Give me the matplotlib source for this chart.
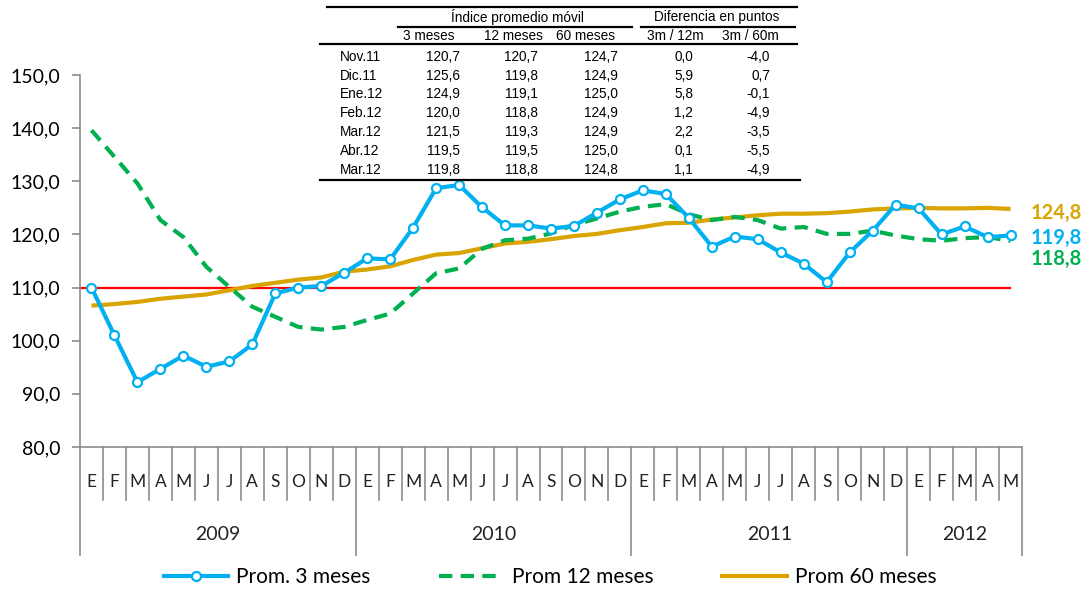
import matplotlib.pyplot as plt
from matplotlib.lines import Line2D

# ---- data ----
month_letters = ['E', 'F', 'M', 'A', 'M', 'J', 'J', 'A', 'S', 'O', 'N', 'D']
years = ['2009', '2010', '2011', '2012']
months_per_year = [12, 12, 12, 5]

prom_3m = [110.0, 101.0, 92.2, 94.7, 97.2, 95.1, 96.1, 99.3, 108.9, 110.0, 110.3, 112.8,
           115.5, 115.3, 121.3, 128.7, 129.3, 125.1, 121.7, 121.7, 121.1, 121.6, 124.1, 126.6,
           128.3, 127.6, 123.1, 117.7, 119.6, 119.1, 116.6, 114.5, 111.0, 116.6, 120.7, 125.6,
           124.9, 120.0, 121.5, 119.5, 119.8]
prom_12m = [139.6, 134.6, 129.6, 122.7, 119.5, 113.9, 110.1, 106.4, 104.5, 102.6, 102.1, 102.6,
            103.9, 105.1, 108.9, 112.7, 113.6, 117.3, 118.9, 119.2, 120.2, 121.8, 123.0, 124.3,
            125.2, 125.7, 123.8, 122.7, 123.3, 122.7, 121.1, 121.4, 120.1, 120.1, 120.7, 119.8,
            119.1, 118.8, 119.3, 119.5, 118.8]
prom_60m = [106.6, 106.9, 107.3, 107.9, 108.3, 108.7, 109.5, 110.3, 110.9, 111.5, 111.9, 113.0,
            113.4, 114.0, 115.2, 116.2, 116.5, 117.4, 118.3, 118.6, 119.1, 119.7, 120.1, 120.8,
            121.4, 122.1, 122.2, 122.8, 123.2, 123.6, 123.9, 123.9, 124.0, 124.3, 124.7, 124.9,
            125.0, 124.9, 124.9, 125.0, 124.8]
ref_level = 110.0
y_ticks = [80, 90, 100, 110, 120, 130, 140, 150]

# table in the top of the chart
tab_rows = ['Nov.11', 'Dic.11', 'Ene.12', 'Feb.12', 'Mar.12', 'Abr.12', 'Mar.12']
tab_3m = [120.7, 125.6, 124.9, 120.0, 121.5, 119.5, 119.8]
tab_12m = [120.7, 119.8, 119.1, 118.8, 119.3, 119.5, 118.8]
tab_60m = [124.7, 124.9, 125.0, 124.9, 124.9, 125.0, 124.8]
dif_3m_12m = [0.0, 5.9, 5.8, 1.2, 2.2, 0.1, 1.1]
dif_3m_60m = [-4.0, 0.7, -0.1, -4.9, -3.5, -5.5, -4.9]

# ---- styles ----
BLUE = '#00B0F0'
GREEN = '#00B050'
GOLD = '#D9A400'
GREY = '#8C8C8C'
W, H = 1089, 590


def fmt(v):
    return ('%.1f' % v).replace('.', ',')


def fx(px):
    return px / W


def fy(py):
    return 1 - py / H


plt.rcParams['font.family'] = ['Lato', 'DejaVu Sans']

fig = plt.figure(figsize=(W / 100, H / 100), dpi=100)
ax = fig.add_axes([fx(80), fy(447), fx(1022) - fx(80), (447 - 75) / H])

n = len(prom_3m)
xs = list(range(n))

ax.hlines(ref_level, -0.5, n - 1, color='#FF0000', lw=1.6, zorder=2)
ax.plot(xs, prom_60m, color=GOLD, lw=3, zorder=3, solid_capstyle='butt')
ax.plot(xs, prom_12m, color=GREEN, lw=3, ls=(0, (3.2, 2.0)), zorder=4)
ax.plot(xs, prom_3m, color=BLUE, lw=3, marker='o', ms=6.5, mfc='white', mec=BLUE,
        mew=1.6, zorder=5)

ax.set_xlim(-0.5, n - 0.5)
ax.set_ylim(80, 150)
ax.set_yticks(y_ticks)
ax.set_yticklabels([fmt(v) for v in y_ticks], fontsize=14)
ax.tick_params(axis='y', direction='out', length=6, width=1.2, color=GREY, pad=8)
ax.set_xticks([])
for s in ['top', 'right']:
    ax.spines[s].set_visible(False)
for s in ['left', 'bottom']:
    ax.spines[s].set_color(GREY)
    ax.spines[s].set_linewidth(1.2)

# category axis: months and years
trans = ax.get_xaxis_transform()
month_bottom = (447 - 500) / (447 - 75)
year_bottom = (447 - 555) / (447 - 75)
k = 0
for yi, (yr, cnt) in enumerate(zip(years, months_per_year)):
    ax.plot([k - 0.5, k - 0.5], [0, year_bottom], transform=trans, color=GREY, lw=1.2, clip_on=False)
    for m in range(cnt):
        if m > 0:
            ax.plot([k + m - 0.5, k + m - 0.5], [0, month_bottom], transform=trans, color=GREY,
                    lw=1.2, clip_on=False)
        ax.text(k + m, (447 - 482) / (447 - 75), month_letters[m], transform=trans,
                ha='center', va='center', fontsize=12.5, color='#222222')
    ax.text(k + (cnt - 1) / 2, (447 - 535) / (447 - 75), yr, transform=trans,
            ha='center', va='center', fontsize=14, color='#222222')
    k += cnt
ax.plot([k - 0.5, k - 0.5], [0, year_bottom], transform=trans, color=GREY, lw=1.2, clip_on=False)

# end labels
ax.annotate(fmt(prom_60m[-1]), (n - 1, prom_60m[-1]), xytext=(20, -4), textcoords='offset pixels',
            color=GOLD, fontsize=14.5, fontweight='bold', va='center', annotation_clip=False)
ax.annotate(fmt(prom_3m[-1]), (n - 1, prom_3m[-1]), xytext=(20, -2), textcoords='offset pixels',
            color=BLUE, fontsize=14.5, fontweight='bold', va='center', annotation_clip=False)
ax.annotate(fmt(prom_12m[-1]), (n - 1, prom_12m[-1]), xytext=(20, -18), textcoords='offset pixels',
            color=GREEN, fontsize=14.5, fontweight='bold', va='center', annotation_clip=False)

# legend
handles = [
    Line2D([], [], color=BLUE, lw=3, marker='o', ms=6.5, mfc='white', mec=BLUE, mew=1.6),
    Line2D([], [], color=GREEN, lw=3, ls=(0, (3.2, 2.0))),
    Line2D([], [], color=GOLD, lw=3),
]
fig.legend(handles, ['Prom. 3 meses', 'Prom 12 meses', 'Prom 60 meses'], loc='center',
           bbox_to_anchor=(fx(550), fy(577)), ncol=3, frameon=False, fontsize=15,
           handlelength=3.1, handletextpad=0.38, columnspacing=3.3)

# table
tf = ['Liberation Sans', 'DejaVu Sans']
tsize = 9.8


def hline(x0, x1, y, lw):
    fig.add_artist(Line2D([fx(x0), fx(x1)], [fy(y), fy(y)], color='black', lw=lw))


hline(327, 797, 7, 1.6)
hline(398, 632, 27, 1.6)
hline(641, 795, 27, 1.6)
hline(320, 797, 44, 1.6)
hline(320, 800, 180, 1.6)
fig.text(fx(517), fy(17), 'Índice promedio móvil', family=tf, fontsize=tsize, ha='center', va='center')
fig.text(fx(717), fy(17), 'Diferencia en puntos', family=tf, fontsize=tsize, ha='center', va='center')
for cx, lab in zip([429, 513, 586, 675, 750], ['3 meses', '12 meses', '60 meses', '3m / 12m', '3m / 60m']):
    fig.text(fx(cx), fy(36), lab, family=tf, fontsize=tsize, ha='center', va='center')
row_y = [57, 75.7, 94.3, 113.3, 131.7, 150.7, 169.5]
for i, ry in enumerate(row_y):
    fig.text(fx(340), fy(ry), tab_rows[i], family=tf, fontsize=tsize, ha='left', va='center')
    for rx, col in zip([460, 538, 618, 693, 770], [tab_3m, tab_12m, tab_60m, dif_3m_12m, dif_3m_60m]):
        fig.text(fx(rx), fy(ry), fmt(col[i]), family=tf, fontsize=tsize, ha='right', va='center')

fig.savefig('out.png', dpi=100)
